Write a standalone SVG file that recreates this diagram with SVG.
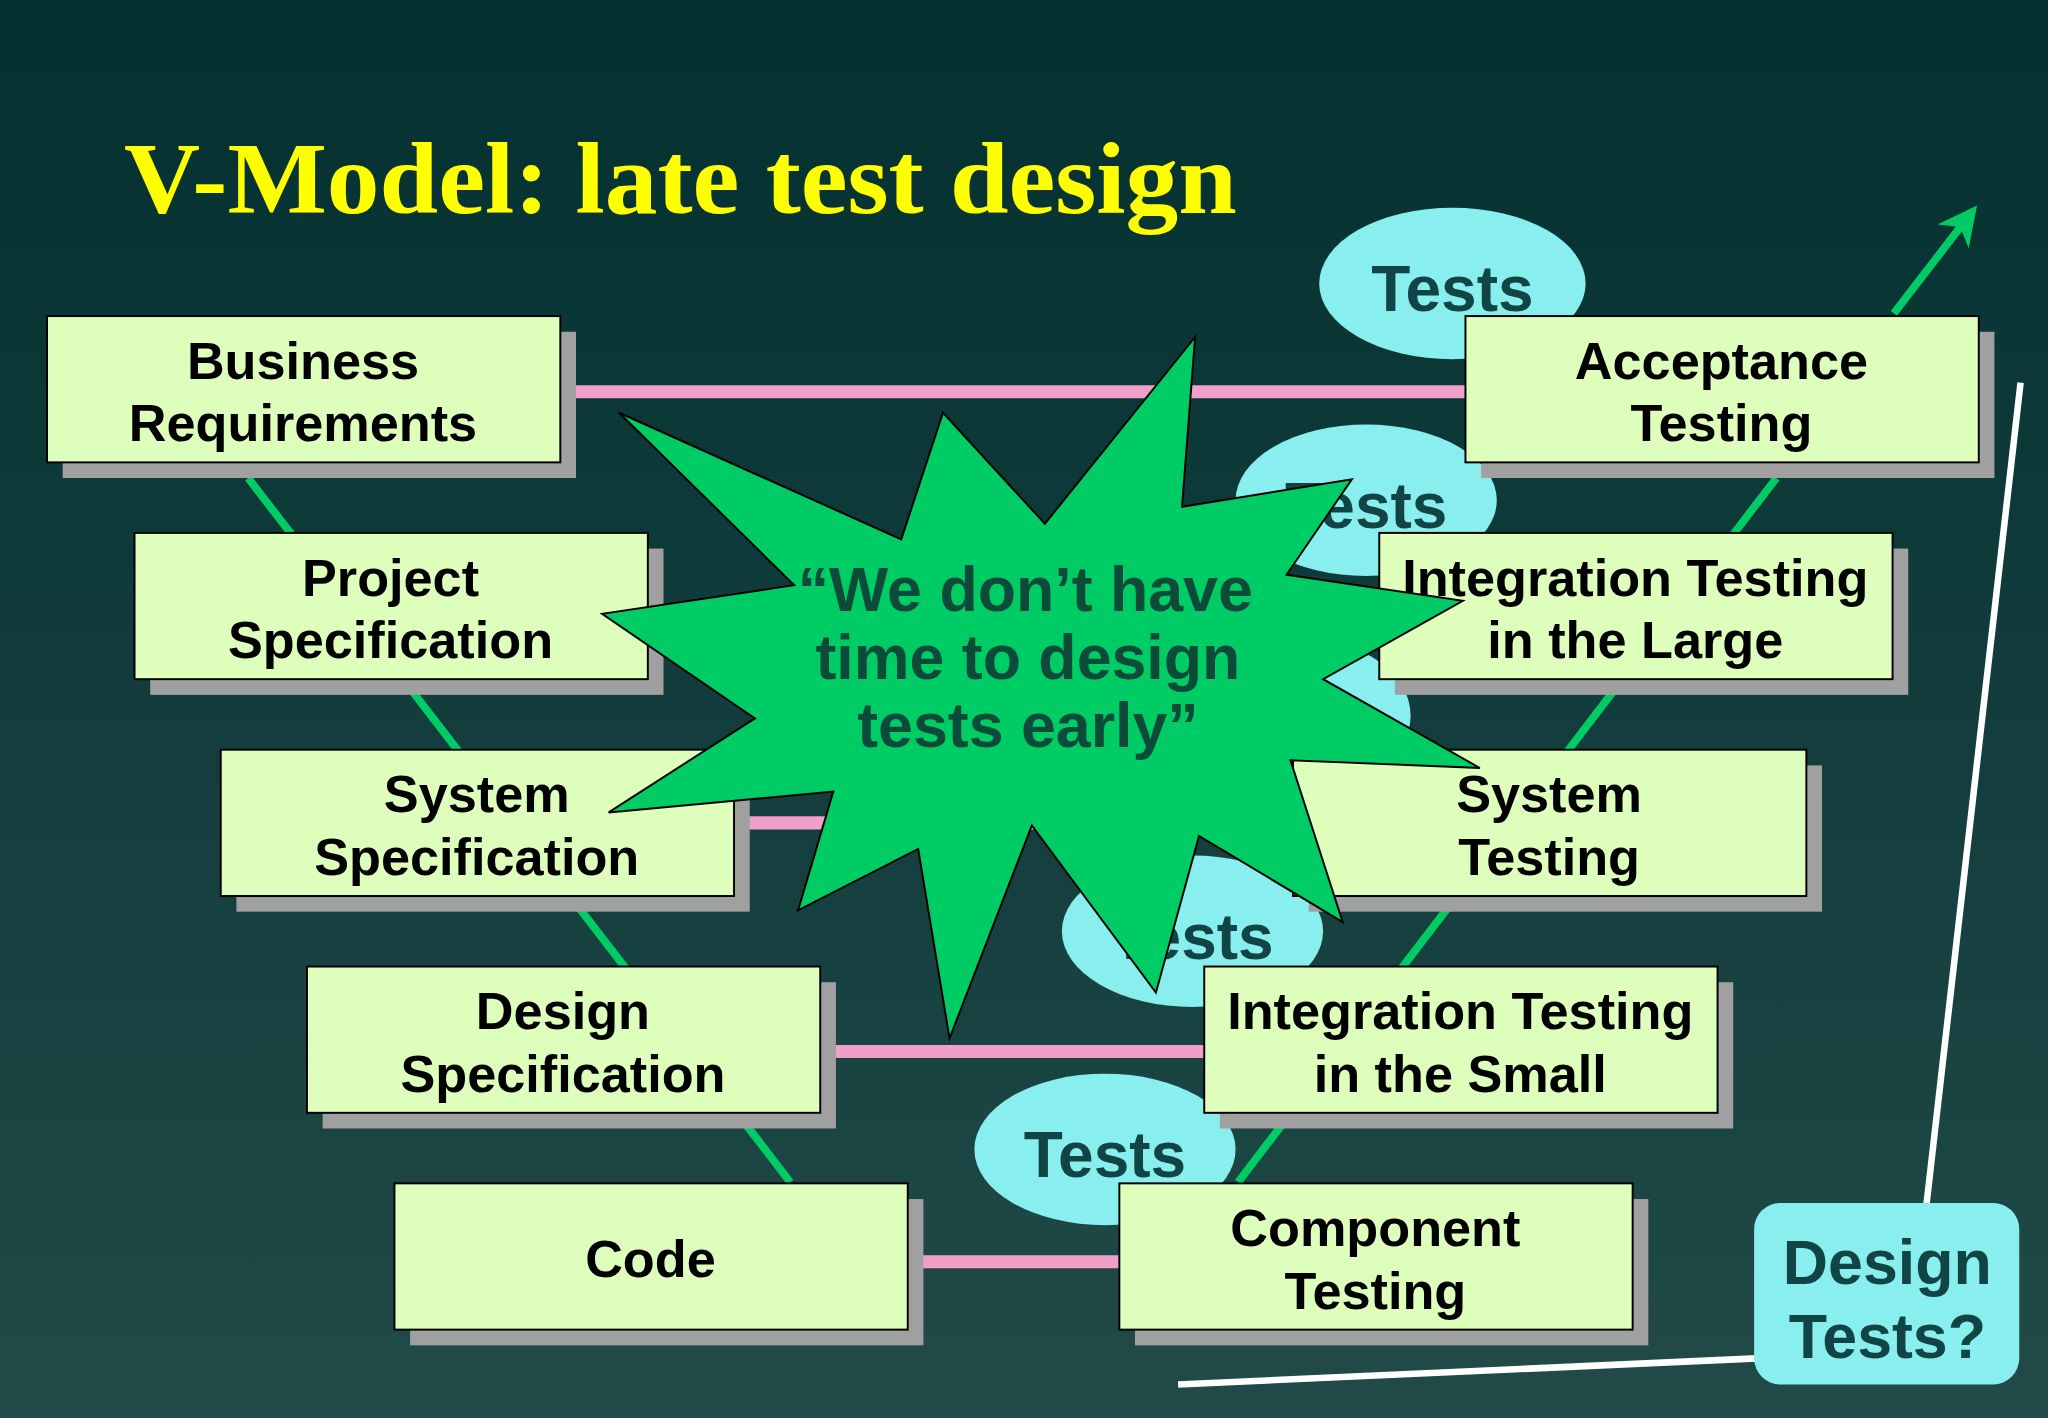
<svg xmlns="http://www.w3.org/2000/svg" width="2048" height="1418" viewBox="0 0 2048 1418">
<defs>
<linearGradient id="bg" x1="0" y1="0" x2="0" y2="1"><stop offset="0" stop-color="#033030"/><stop offset="1" stop-color="#214a48"/></linearGradient>
<marker id="ah" viewBox="0 0 10 10" refX="8" refY="5" markerWidth="5" markerHeight="5" orient="auto"><path d="M0,0 L10,5 L0,10 L3,5 Z" fill="#00cc66"/></marker>
</defs>
<style>
.box{fill:#ddffbb;stroke:#000;stroke-width:1.5}
.sh{fill:#a0a0a0}
.bt{font-family:"Liberation Sans",Arial,sans-serif;font-weight:bold;font-size:40px;fill:#000;text-anchor:middle}
.ell{fill:#88eeee}
.tt{font-family:"Liberation Sans",Arial,sans-serif;font-weight:bold;font-size:49px;fill:#114444;text-anchor:middle}
.pk{stroke:#f0a0c8;stroke-width:10}
.gr{stroke:#00cc66;stroke-width:6;fill:none}
</style>
<rect width="2048" height="1418" fill="url(#bg)"/>
<g transform="scale(1.30612)">
<text x="95" y="163" font-family="Liberation Serif,serif" font-weight="bold" font-size="78" fill="#ffff00" textLength="852" lengthAdjust="spacingAndGlyphs">V-Model: late test design</text>
<g id="connectors">
<line class="gr" x1="190" y1="366" x2="605" y2="905"/>
<line class="gr" x1="948" y1="905" x2="1360" y2="366"/>
<line class="gr" x1="1450" y1="240" x2="1510" y2="162" marker-end="url(#ah)"/>
<line class="pk" x1="429" y1="300" x2="1122" y2="300"/>
<line class="pk" x1="562" y1="630" x2="990" y2="630"/>
<line class="pk" x1="628" y1="805" x2="922" y2="805"/>
<line class="pk" x1="694" y1="966" x2="857" y2="966"/>
<line stroke="#fff" stroke-width="5" x1="1547" y1="293" x2="1475" y2="922"/>
<line stroke="#fff" stroke-width="5" x1="902" y1="1060" x2="1345" y2="1040"/>
</g>
<g id="tests1"><ellipse class="ell" cx="1112" cy="217" rx="102" ry="58"/><text class="tt" x="1112" y="238">Tests</text></g>
<g id="tests2"><ellipse class="ell" cx="1046" cy="383" rx="100" ry="58"/><text class="tt" x="1046" y="404">Tests</text></g>
<g id="tests3"><ellipse class="ell" cx="1000" cy="548" rx="80" ry="58"/></g>
<g id="tests4"><ellipse class="ell" cx="913" cy="713" rx="100" ry="58"/><text class="tt" x="913" y="734">Tests</text></g>
<g id="tests5"><ellipse class="ell" cx="846" cy="880" rx="100" ry="58"/><text class="tt" x="846" y="901">Tests</text></g>
<g id="n1"><rect class="sh" x="48" y="254" width="393" height="112"/><rect class="box" x="36" y="242" width="393" height="112"/><text class="bt" x="232" y="290">Business</text><text class="bt" x="232" y="338">Requirements</text></g>
<g id="n2"><rect class="sh" x="115" y="420" width="393" height="112"/><rect class="box" x="103" y="408" width="393" height="112"/><text class="bt" x="299" y="456">Project</text><text class="bt" x="299" y="504">Specification</text></g>
<g id="n3"><rect class="sh" x="181" y="586" width="393" height="112"/><rect class="box" x="169" y="574" width="393" height="112"/><text class="bt" x="365" y="622">System</text><text class="bt" x="365" y="670">Specification</text></g>
<g id="n4"><rect class="sh" x="247" y="752" width="393" height="112"/><rect class="box" x="235" y="740" width="393" height="112"/><text class="bt" x="431" y="788">Design</text><text class="bt" x="431" y="836">Specification</text></g>
<g id="n5"><rect class="sh" x="314" y="918" width="393" height="112"/><rect class="box" x="302" y="906" width="393" height="112"/><text class="bt" x="498" y="978">Code</text></g>
<g id="n6"><rect class="sh" x="1134" y="254" width="393" height="112"/><rect class="box" x="1122" y="242" width="393" height="112"/><text class="bt" x="1318" y="290">Acceptance</text><text class="bt" x="1318" y="338">Testing</text></g>
<g id="n7"><rect class="sh" x="1068" y="420" width="393" height="112"/><rect class="box" x="1056" y="408" width="393" height="112"/><text class="bt" x="1252" y="456">Integration Testing</text><text class="bt" x="1252" y="504">in the Large</text></g>
<g id="n8"><rect class="sh" x="1002" y="586" width="393" height="112"/><rect class="box" x="990" y="574" width="393" height="112"/><text class="bt" x="1186" y="622">System</text><text class="bt" x="1186" y="670">Testing</text></g>
<g id="n9"><rect class="sh" x="934" y="752" width="393" height="112"/><rect class="box" x="922" y="740" width="393" height="112"/><text class="bt" x="1118" y="788">Integration Testing</text><text class="bt" x="1118" y="836">in the Small</text></g>
<g id="n10"><rect class="sh" x="869" y="918" width="393" height="112"/><rect class="box" x="857" y="906" width="393" height="112"/><text class="bt" x="1053" y="954">Component</text><text class="bt" x="1053" y="1002">Testing</text></g>
<g id="star">
<polygon fill="#00cc66" stroke="#000" stroke-width="1.5" points="474,316 690,413 722,316 800,401 915,258 905,388 1035,367 985,440 1120,460 1013,520 1133,588 988,582 1028,706 918,640 885,760 790,632 727,795 703,650 611,697 638,606 466,622 578,550 461,470 608,448"/>
<g font-family="Liberation Sans,Arial,sans-serif" font-weight="bold" font-size="48" fill="#0c4a3a" text-anchor="middle">
<text x="785" y="468">“We don’t have</text><text x="787" y="520">time to design</text><text x="787" y="572">tests early”</text></g>
</g>
<g id="design-tests"><rect x="1343" y="921" width="203" height="139" rx="20" fill="#88eeee"/>
<g font-family="Liberation Sans,Arial,sans-serif" font-weight="bold" font-size="48" fill="#114444" text-anchor="middle"><text x="1445" y="983">Design</text><text x="1445" y="1040">Tests?</text></g></g>
</g>
</svg>
